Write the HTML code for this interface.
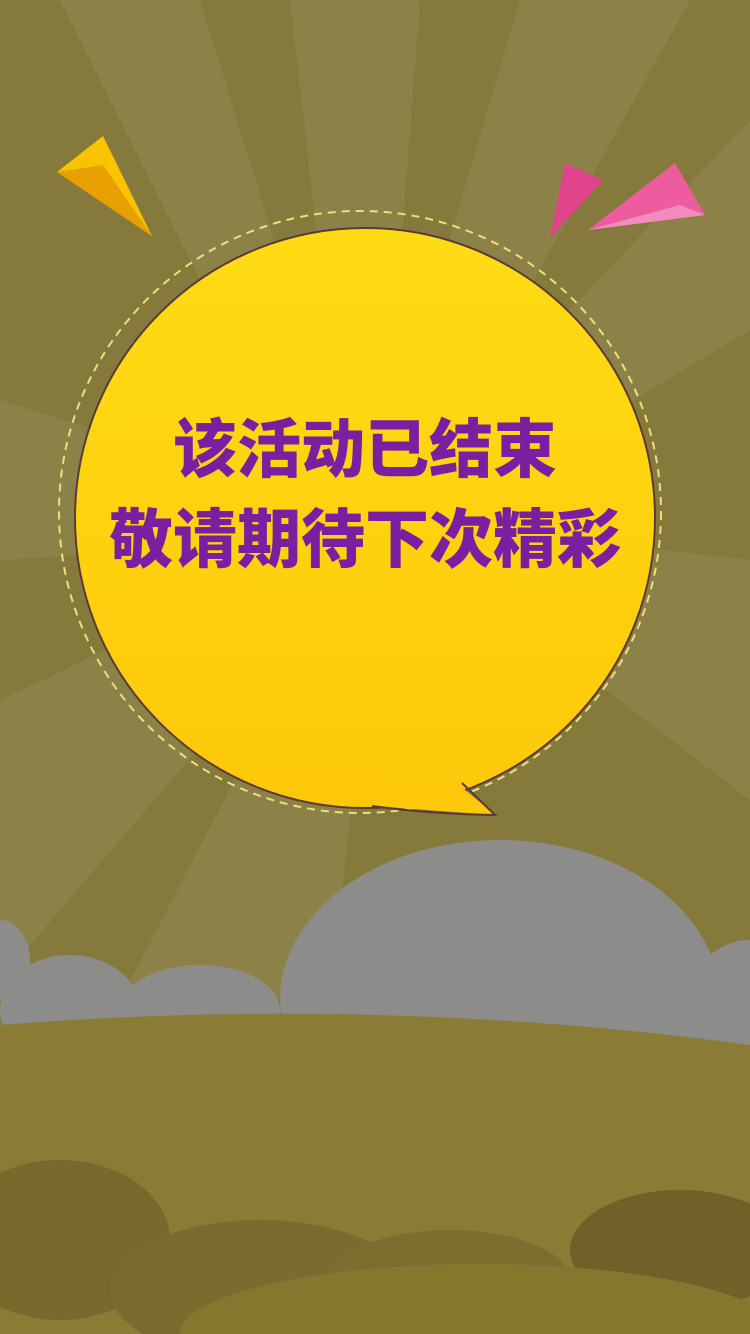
<!DOCTYPE html>
<html><head><meta charset="utf-8">
<style>
html,body{margin:0;padding:0;width:750px;height:1334px;overflow:hidden;background:#857a3c;}
svg{display:block;overflow:hidden}
text{font-family:"Liberation Sans","Noto Sans CJK SC","WenQuanYi Zen Hei",sans-serif;font-weight:900;}
</style></head>
<body>
<svg width="750" height="1334" viewBox="0 0 750 1334">
  <defs>
    <linearGradient id="bg1" x1="0" y1="0" x2="0" y2="1">
      <stop offset="0" stop-color="#fedc14"/><stop offset="1" stop-color="#fdc80a"/>
    </linearGradient>
  </defs>
  <rect width="750" height="1334" fill="#857a3c"/>
  <g fill="#a29a6a" opacity="0.25">
    <polygon points="60,0 200,0 360,520 330,540"/>
    <polygon points="290,0 420,0 380,520 350,520"/>
    <polygon points="520,0 690,0 400,520 370,510"/>
    <polygon points="750,120 750,330 400,540 380,510"/>
    <polygon points="0,400 0,560 350,540 350,510"/>
    <polygon points="0,700 0,980 360,560 340,540"/>
    <polygon points="120,1000 330,1000 380,540 360,540"/>
    <polygon points="750,560 750,800 410,540 400,520"/>
  </g>
  <g fill="#8c8c8a">
    <ellipse cx="500" cy="1000" rx="220" ry="160"/>
    <ellipse cx="750" cy="1000" rx="60" ry="60"/>
    <ellipse cx="200" cy="1010" rx="80" ry="45"/>
    <ellipse cx="70" cy="1010" rx="70" ry="55"/>
    <ellipse cx="0" cy="960" rx="30" ry="40"/>
  </g>
  <path d="M0,1025 Q380,995 750,1045 L750,1334 L0,1334 Z" fill="#8a7c34"/>
  <g>
    <ellipse cx="60" cy="1240" rx="110" ry="80" fill="#78692c"/>
    <ellipse cx="260" cy="1290" rx="150" ry="70" fill="#7a6b2e"/>
    <ellipse cx="450" cy="1280" rx="120" ry="50" fill="#7d6e30"/>
    <ellipse cx="680" cy="1250" rx="110" ry="60" fill="#6f6128"/>
    <ellipse cx="480" cy="1334" rx="300" ry="70" fill="#85772e"/>
  </g>
  <g>
    <circle cx="360" cy="512" r="301" fill="none" stroke="#ece07a" stroke-width="2" stroke-dasharray="8 6"/>
    <circle cx="365" cy="518" r="290" fill="url(#bg1)" stroke="#5a3a3a" stroke-width="2"/>
    <polygon points="410,800 468,776 460,786 496,815 372,806" fill="#fdc80a"/>
    <path d="M462,783 L495,815 Q430,814 372,806" fill="none" stroke="#5a3a3a" stroke-width="2"/>
  </g>
  <g fill="#7b1fa2" text-anchor="middle">
    <text x="365" y="472" font-size="64">该活动已结束</text>
    <text x="365" y="562" font-size="64">敬请期待下次精彩</text>
  </g>
  <g>
    <polygon points="57,172 103,136 152,236" fill="#f8c400"/>
    <polygon points="57,172 103,165 152,236" fill="#e8a000"/>
  </g>
  <g>
    <polygon points="550,238 565,163 603,180" fill="#e0448a"/>
    <polygon points="588,230 675,163 705,215" fill="#ec5c9e"/>
    <polygon points="588,230 680,205 705,215" fill="#f28cbc"/>
  </g>
</svg>
</body></html>
